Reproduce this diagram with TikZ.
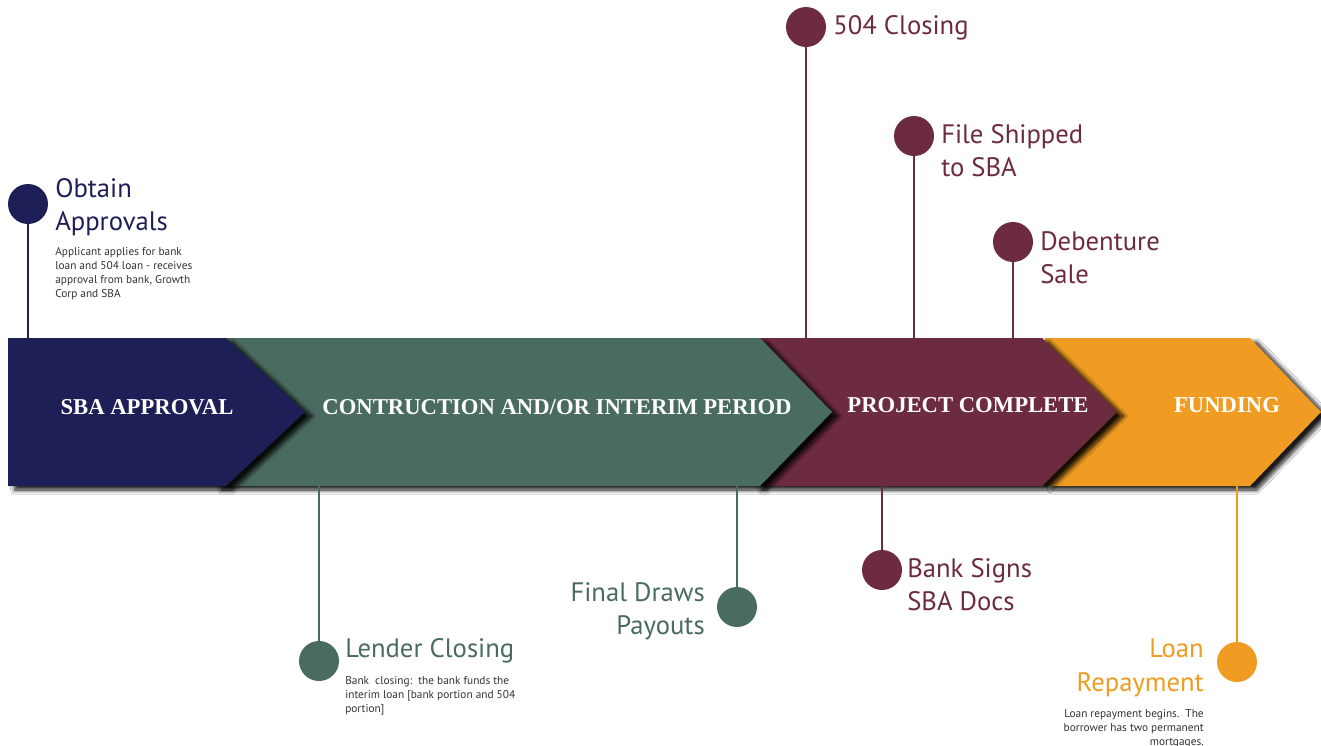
\documentclass[tikz,border=0pt]{standalone}
\usepackage{fontspec}
\setmainfont{Liberation Serif}
\newfontfamily\lblfont{PT Sans}
\usetikzlibrary{shadows.blur}
\definecolor{navy}{HTML}{1E1F56}
\definecolor{sage}{HTML}{4A6B5F}
\definecolor{wine}{HTML}{6D2B3F}
\definecolor{amber}{HTML}{F09C22}
\definecolor{desc}{HTML}{333333}
\tikzset{
  chev/.style={blur shadow={shadow xshift=5pt, shadow yshift=-3pt, shadow opacity=90, shadow blur steps=10, shadow blur radius=3pt}},
  chevtext/.style={text=white, font=\fontsize{17}{19}\selectfont\bfseries, inner sep=0pt},
  dot/.style={circle, minimum size=30pt, inner sep=0pt},
  stem/.style={line width=1.5pt},
  ttl/.style={font=\lblfont\fontsize{20}{24.8}\selectfont, inner sep=0pt},
  dsc/.style={font=\lblfont\fontsize{8.5}{10.5}\selectfont, text=desc, inner sep=0pt},
}
\begin{document}
\begin{tikzpicture}[x=0.75pt,y=-0.75pt]
\useasboundingbox[fill=white] (0,0) rectangle (1321,746);
% chevrons (back to front)
\fill[amber, chev] (1045,338) -- (1250,338) -- (1321,412) -- (1250,486) -- (1045,486) -- cycle;
\fill[wine, chev] (755,338) -- (1042,338) -- (1117,412) -- (1042,486) -- (755,486) -- cycle;
\fill[sage, chev] (215,338) -- (760,338) -- (832,412) -- (760,486) -- (215,486) -- cycle;
\fill[navy, chev] (8,338) -- (226,338) -- (305,412) -- (226,486) -- (8,486) -- cycle;
\node[chevtext] (t1) at (147,407) {SBA APPROVAL};
\node[chevtext] (t2) at (557,407) {CONTRUCTION AND/OR INTERIM PERIOD};
\node[chevtext] (t3) at (968,405) {PROJECT COMPLETE};
\node[chevtext] (t4) at (1227,405) {FUNDING};
% anchor coordinates on chevron edges
\coordinate (e1) at (28,338);
\coordinate (e2) at (319,486);
\coordinate (e3) at (737,486);
\coordinate (e4) at (806,338);
\coordinate (e5) at (914,338);
\coordinate (e6) at (1013,338);
\coordinate (e7) at (882,486);
\coordinate (e8) at (1237,486);
% dots
\node[dot, fill=navy] (d1) at (28,204) {};
\node[dot, fill=sage] (d2) at (319,661) {};
\node[dot, fill=sage] (d3) at (737,607) {};
\node[dot, fill=wine] (d4) at (806,27) {};
\node[dot, fill=wine] (d5) at (914,136) {};
\node[dot, fill=wine] (d6) at (1013,242) {};
\node[dot, fill=wine] (d7) at (882,570) {};
\node[dot, fill=amber] (d8) at (1237,662) {};
\draw[stem, navy] (d1) -- (e1);
\draw[stem, sage] (d2) -- (e2);
\draw[stem, sage] (d3) -- (e3);
\draw[stem, wine] (d4) -- (e4);
\draw[stem, wine] (d5) -- (e5);
\draw[stem, wine] (d6) -- (e6);
\draw[stem, wine] (d7) -- (e7);
\draw[stem, amber] (d8) -- (e8);
% titles
\node[ttl, text=navy, anchor=north west, align=left] (l1) at (55,178) {Obtain\\Approvals};
\node[dsc, anchor=north west, align=left] (s1) at (55,247) {Applicant applies for bank\\loan and 504 loan - receives\\approval from bank, Growth\\Corp and SBA};
\node[ttl, text=sage, anchor=north west, align=left] (l2) at (345,638) {Lender Closing};
\node[dsc, anchor=north west, align=left] (s2) at (345,676) {Bank\ \ closing:\ \ the bank funds the\\interim loan [bank portion and 504\\portion]};
\node[ttl, text=sage, anchor=north east, align=right] (l3) at (705,582) {Final Draws\\Payouts};
\node[ttl, text=wine, anchor=north west, align=left] (l4) at (833,15) {504 Closing};
\node[ttl, text=wine, anchor=north west, align=left] (l5) at (941,124) {File Shipped\\to SBA};
\node[ttl, text=wine, anchor=north west, align=left] (l6) at (1040,231) {Debenture\\Sale};
\node[ttl, text=wine, anchor=north west, align=left] (l7) at (907,558) {Bank Signs\\SBA Docs};
\node[ttl, text=amber, anchor=north east, align=right] (l8) at (1204,639) {Loan\\Repayment};
\node[dsc, anchor=north east, align=right] (s8) at (1204,709) {Loan repayment begins.\ \ The\\borrower has two permanent\\mortgages.};
\end{tikzpicture}
\end{document}
